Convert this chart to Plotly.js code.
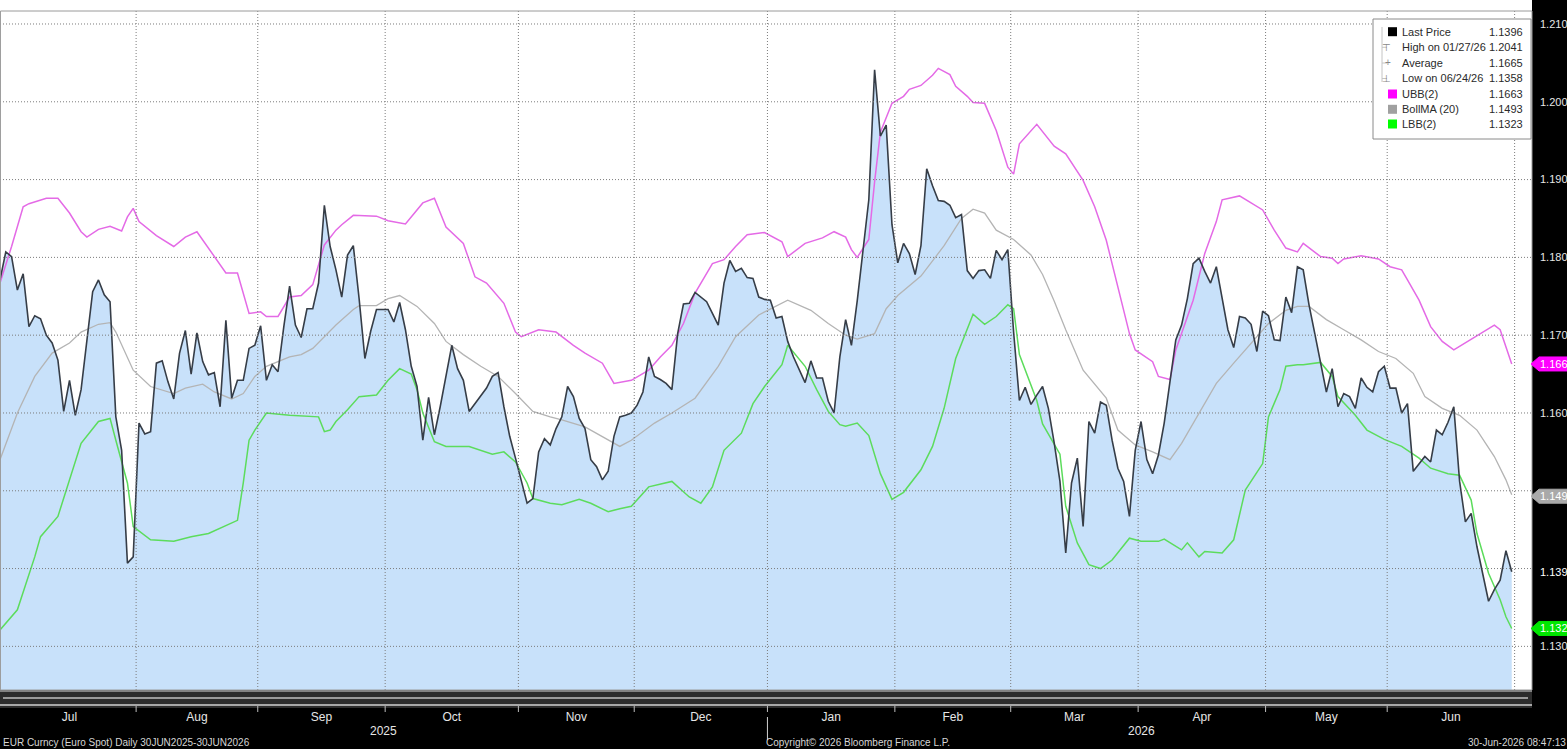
<!DOCTYPE html>
<html>
<head>
<meta charset="utf-8">
<script src="https://cdn.plot.ly/plotly-3.0.1.min.js"></script>
<style>
  html, body { margin: 0; padding: 0; background: #000; }
  #chart { width: 1567px; height: 749px; }
</style>
</head>
<body>
<div id="chart"></div>
<script>
// ---------------- DATA ----------------
// EUR spot, daily (trading-day index 0 = 30 Jun 2025 ... 261 = 30 Jun 2026)
const priceValues = [
  1.1771,1.1807,1.1801,1.1758,1.1779,1.1711,1.1725,1.1721,1.1700,1.1690,
  1.1668,1.1602,1.1642,1.1597,1.1630,1.1690,1.1756,1.1771,1.1752,1.1743,
  1.1595,1.1552,1.1407,1.1415,1.1587,1.1573,1.1576,1.1664,1.1667,1.1640,
  1.1618,1.1677,1.1706,1.1650,1.1703,1.1666,1.1649,1.1652,1.1608,1.1719,
  1.1619,1.1642,1.1642,1.1683,1.1687,1.1712,1.1642,1.1662,1.1653,1.1711,
  1.1763,1.1713,1.1697,1.1734,1.1734,1.1767,1.1867,1.1814,1.1784,1.1749,
  1.1803,1.1815,1.1747,1.1670,1.1705,1.1733,1.1733,1.1733,1.1717,1.1742,
  1.1707,1.1660,1.1634,1.1565,1.1620,1.1572,1.1608,1.1647,1.1687,1.1657,
  1.1642,1.1602,1.1612,1.1621,1.1632,1.1647,1.1652,1.1608,1.1570,1.1542,
  1.1514,1.1484,1.1490,1.1550,1.1567,1.1559,1.1580,1.1595,1.1634,1.1621,
  1.1593,1.1580,1.1540,1.1531,1.1514,1.1525,1.1570,1.1595,1.1597,1.1600,
  1.1610,1.1627,1.1672,1.1647,1.1643,1.1638,1.1630,1.1702,1.1740,1.1741,
  1.1755,1.1749,1.1743,1.1728,1.1713,1.1767,1.1796,1.1782,1.1786,1.1774,
  1.1773,1.1749,1.1746,1.1745,1.1722,1.1724,1.1692,1.1672,1.1655,1.1639,
  1.1667,1.1645,1.1645,1.1615,1.1600,1.1672,1.1720,1.1687,1.1744,1.1813,
  1.1874,1.2041,1.1956,1.1970,1.1842,1.1793,1.1818,1.1805,1.1778,1.1815,
  1.1914,1.1892,1.1873,1.1872,1.1867,1.1851,1.1855,1.1783,1.1773,1.1783,
  1.1784,1.1773,1.1809,1.1797,1.1810,1.1704,1.1616,1.1633,1.1611,1.1623,
  1.1634,1.1606,1.1562,1.1512,1.1420,1.1510,1.1542,1.1454,1.1589,1.1574,
  1.1614,1.1610,1.1565,1.1529,1.1512,1.1467,1.1552,1.1589,1.1540,1.1522,
  1.1546,1.1587,1.1642,1.1694,1.1713,1.1747,1.1792,1.1799,1.1782,1.1767,
  1.1788,1.1745,1.1707,1.1684,1.1724,1.1722,1.1714,1.1679,1.1731,1.1725,
  1.1694,1.1693,1.1749,1.1729,1.1788,1.1784,1.1739,1.1702,1.1664,1.1627,
  1.1657,1.1608,1.1625,1.1621,1.1606,1.1645,1.1633,1.1627,1.1653,1.1660,
  1.1632,1.1632,1.1600,1.1612,1.1525,1.1535,1.1544,1.1537,1.1578,1.1572,
  1.1588,1.1608,1.1512,1.1460,1.1471,1.1428,1.1394,1.1358,1.1373,1.1385,
  1.1423,1.1396
];
const priceIdx = priceValues.map((_, i) => i);

// Upper Bollinger band (2)
const ubbIdx = [0,2,4,5,8,10,12,14,15,17,19,21,22,23,24,27,30,32,34,37,39,41,43,45,46,48,50,52,54,56,58,59,61,65,67,70,73,75,77,80,82,84,87,89,90,93,96,99,101,104,106,109,112,114,116,118,120,123,125,127,129,132,135,136,139,142,144,146,147,148,150,151,152,154,156,157,159,161,162,164,165,167,168,170,172,174,175,176,179,182,184,187,189,191,193,195,196,199,200,202,203,206,208,210,211,214,216,218,220,222,224,225,228,230,231,232,235,238,240,242,243,245,247,249,251,253,255,258,259,261];
const ubbValues = [1.1767,1.1814,1.1865,1.1869,1.1876,1.1876,1.1857,1.1833,1.1826,1.1836,1.1840,1.1834,1.1852,1.1863,1.1846,1.1828,1.1814,1.1826,1.1833,1.1801,1.1780,1.1780,1.1728,1.1730,1.1724,1.1724,1.1749,1.1751,1.1765,1.1816,1.1835,1.1842,1.1854,1.1853,1.1847,1.1843,1.1870,1.1876,1.1839,1.1818,1.1775,1.1767,1.1741,1.1704,1.1698,1.1707,1.1704,1.1687,1.1677,1.1664,1.1638,1.1642,1.1655,1.1672,1.1687,1.1715,1.1754,1.1792,1.1797,1.1814,1.1829,1.1832,1.1820,1.1801,1.1818,1.1825,1.1833,1.1826,1.1810,1.1800,1.1823,1.1897,1.1961,1.1998,1.2007,1.2016,1.2021,1.2034,1.2043,1.2035,1.2020,1.2007,1.1999,1.1998,1.1963,1.1916,1.1907,1.1946,1.1971,1.1943,1.1933,1.1899,1.1865,1.1822,1.1762,1.1702,1.1681,1.1666,1.1647,1.1643,1.1681,1.1745,1.1805,1.1846,1.1874,1.1879,1.1870,1.1861,1.1835,1.1812,1.1807,1.1818,1.1801,1.1799,1.1792,1.1798,1.1802,1.1798,1.1788,1.1784,1.1771,1.1745,1.1711,1.1692,1.1681,1.1690,1.1700,1.1713,1.1707,1.1663];

// Bollinger moving average (20)
const maIdx = [0,3,6,9,12,14,17,19,20,23,26,30,32,35,37,40,42,44,46,50,52,54,58,61,62,65,67,69,72,75,77,80,83,86,89,92,95,97,101,104,106,107,109,113,116,120,124,127,131,134,136,140,143,146,148,151,153,155,159,163,166,168,170,172,175,178,180,182,184,187,191,193,196,199,202,204,207,210,213,216,219,222,224,226,229,232,235,238,241,244,246,249,252,255,258,260,261];
const maValues = [1.1540,1.1600,1.1647,1.1677,1.1690,1.1704,1.1714,1.1716,1.1704,1.1655,1.1634,1.1625,1.1632,1.1637,1.1627,1.1618,1.1625,1.1647,1.1660,1.1672,1.1675,1.1683,1.1713,1.1733,1.1738,1.1738,1.1747,1.1751,1.1737,1.1715,1.1692,1.1675,1.1660,1.1647,1.1625,1.1602,1.1595,1.1591,1.1582,1.1570,1.1561,1.1557,1.1565,1.1587,1.1600,1.1619,1.1660,1.1698,1.1726,1.1738,1.1745,1.1732,1.1715,1.1700,1.1695,1.1702,1.1734,1.1751,1.1776,1.1815,1.1850,1.1862,1.1857,1.1835,1.1823,1.1803,1.1778,1.1744,1.1707,1.1655,1.1619,1.1578,1.1559,1.1550,1.1540,1.1561,1.1600,1.1638,1.1664,1.1690,1.1715,1.1732,1.1737,1.1737,1.1720,1.1707,1.1694,1.1679,1.1670,1.1651,1.1621,1.1606,1.1597,1.1578,1.1544,1.1514,1.1495];

// Lower Bollinger band (2)
const lbbIdx = [0,3,6,7,10,12,14,17,19,20,22,23,26,30,33,36,38,41,42,43,44,46,50,55,56,57,58,60,62,65,67,69,71,72,73,75,77,81,85,87,89,91,92,95,97,100,102,105,107,109,112,116,119,121,123,125,128,130,132,135,136,139,141,143,145,146,148,150,152,154,156,159,161,163,165,167,168,170,172,174,175,176,179,180,183,184,186,188,190,192,195,197,200,201,204,205,207,208,211,213,215,218,219,221,222,224,225,228,230,231,234,236,239,242,245,247,250,252,254,255,257,259,260,261];
const lbbValues = [1.1321,1.1347,1.1415,1.1441,1.1467,1.1514,1.1561,1.1589,1.1593,1.1565,1.1510,1.1454,1.1437,1.1435,1.1441,1.1445,1.1452,1.1462,1.1510,1.1565,1.1578,1.1600,1.1597,1.1595,1.1576,1.1578,1.1589,1.1604,1.1621,1.1623,1.1642,1.1657,1.1650,1.1630,1.1600,1.1563,1.1557,1.1557,1.1547,1.1550,1.1537,1.1510,1.1490,1.1484,1.1482,1.1489,1.1484,1.1473,1.1477,1.1480,1.1505,1.1512,1.1492,1.1484,1.1505,1.1552,1.1574,1.1612,1.1634,1.1662,1.1687,1.1660,1.1630,1.1602,1.1585,1.1583,1.1587,1.1571,1.1522,1.1489,1.1498,1.1527,1.1557,1.1606,1.1670,1.1709,1.1727,1.1714,1.1724,1.1739,1.1734,1.1675,1.1616,1.1586,1.1547,1.1480,1.1433,1.1405,1.1400,1.1411,1.1439,1.1435,1.1435,1.1438,1.1424,1.1433,1.1415,1.1422,1.1420,1.1437,1.1501,1.1535,1.1595,1.1630,1.1660,1.1662,1.1662,1.1665,1.1647,1.1621,1.1597,1.1578,1.1566,1.1557,1.1542,1.1529,1.1522,1.1520,1.1488,1.1445,1.1394,1.1360,1.1338,1.1323];

// Month axis (first trading-day index of each month)
const monthNames = ['Jul','Aug','Sep','Oct','Nov','Dec','Jan','Feb','Mar','Apr','May','Jun'];
const monthStart = [1,24,45,67,90,110,133,155,175,197,219,240,262];
const yearLabels = ['2025','2026'];

// Price axis
const yTickVals = [1.13,1.14,1.15,1.16,1.17,1.18,1.19,1.20,1.21];
const yTickText = ['1.130','','','1.160','1.170','1.180','1.190','1.200','1.210'];

// Last-value tags on the axis
const tagValues = [1.1663, 1.1493, 1.1396, 1.1323];
const tagText   = ['1.166','1.149','1.139','1.132'];
const tagColors = ['#ff00ff','#a9a9a9', null, '#00e600'];

// Legend
const legendLabels = ['Last Price','High on 01/27/26','Average','Low on 06/24/26','UBB(2)','BollMA (20)','LBB(2)'];
const legendValues = ['1.1396','1.2041','1.1665','1.1358','1.1663','1.1493','1.1323'];
const legendSwatch = ['#000000', '⊤', '+', '⊥', '#ff00ff', '#a0a0a0', '#00ff00'];

const footerLeft = 'EUR Curncy (Euro Spot) Daily 30JUN2025-30JUN2026';
const footerMid = 'Copyright© 2026 Bloomberg Finance L.P.';
const footerRight = '30-Jun-2026 08:47:13';

// ---------------- LAYOUT ----------------
const FONT = 'Liberation Sans Narrow, Liberation Sans, Arial, sans-serif';
const W = 1567, H = 749;
const M = {l: 0, r: 35, t: 11, b: 59};
const PW = W - M.l - M.r, PH = H - M.t - M.b;
const X_RANGE = [0, 264.5];
const Y_RANGE = [1.12439, 1.21167];
const px = x => (x - M.l) / PW;              // page px -> paper x
const py = y => (H - M.b - y) / PH;          // page px -> paper y
const yPerPx = (Y_RANGE[1] - Y_RANGE[0]) / PH;

const bounds = monthStart.map(s => s - 0.5);
const mids = monthNames.map((_, i) => (Math.max(bounds[i], 0) + bounds[i + 1]) / 2);

const traces = [
  {x: priceIdx, y: priceValues, type: 'scatter', mode: 'lines',
   line: {width: 0, color: 'rgba(0,0,0,0)'}, fill: 'tozeroy', fillcolor: '#c8e1fa', hoverinfo: 'skip'},
  {x: maIdx, y: maValues, type: 'scatter', mode: 'lines', name: 'BollMA (20)',
   line: {color: '#b4b4b4', width: 1.3}},
  {x: ubbIdx, y: ubbValues, type: 'scatter', mode: 'lines', name: 'UBB(2)',
   line: {color: '#e46ae6', width: 1.5}},
  {x: lbbIdx, y: lbbValues, type: 'scatter', mode: 'lines', name: 'LBB(2)',
   line: {color: '#5cdc5c', width: 1.5}},
  {x: priceIdx, y: priceValues, type: 'scatter', mode: 'lines', name: 'Last Price',
   line: {color: '#363d47', width: 1.6}}
];

const shapes = [];
const annotations = [];
const grid = {color: '#7c7c7c', width: 1, dash: '1px,2px'};

// horizontal grid
yTickVals.forEach(v => shapes.push({type: 'line', xref: 'paper', yref: 'y', x0: 0, x1: 1, y0: v, y1: v, line: grid, layer: 'above'}));
// vertical grid at month boundaries
bounds.slice(1).forEach(b => shapes.push({type: 'line', xref: 'x', yref: 'paper', x0: b, x1: b, y0: 0, y1: 1, line: grid, layer: 'above'}));

// top white strip and plot frame
shapes.push({type: 'rect', xref: 'paper', yref: 'paper', x0: 0, x1: px(1532), y0: 1, y1: py(0), fillcolor: '#ffffff', line: {width: 0}, layer: 'below'});
shapes.push({type: 'rect', xref: 'paper', yref: 'paper', x0: 0.0003, x1: 1, y0: 0, y1: 1, line: {color: '#9a9a9a', width: 1}, layer: 'above'});

// scroll-bar band under the plot
shapes.push({type: 'rect', xref: 'paper', yref: 'paper', x0: 0, x1: px(1532), y0: py(708), y1: py(690), fillcolor: '#2c2c2c', line: {width: 0}});
shapes.push({type: 'line', xref: 'paper', yref: 'paper', x0: 0, x1: px(1532), y0: py(691), y1: py(691), line: {color: '#d8d8d8', width: 1}});
shapes.push({type: 'line', xref: 'paper', yref: 'paper', x0: px(3), x1: px(1528), y0: py(698), y1: py(698), line: {color: '#9a9a9a', width: 2}});
shapes.push({type: 'line', xref: 'paper', yref: 'paper', x0: 0, x1: px(1532), y0: py(705), y1: py(705), line: {color: '#d0d0d0', width: 1.5}});
// month tick marks
bounds.slice(1, -1).forEach(b => shapes.push({type: 'line', xref: 'x', yref: 'paper', x0: b, x1: b, y0: py(712), y1: py(706), line: {color: '#bdbdbd', width: 1}}));
// year separator
shapes.push({type: 'line', xref: 'x', yref: 'paper', x0: bounds[6], x1: bounds[6], y0: py(740), y1: py(717), line: {color: '#d0d0d0', width: 1}});

const mid = {showarrow: false, yanchor: 'middle'};
// year labels
annotations.push({...mid, xref: 'x', yref: 'paper', x: (0 + bounds[6]) / 2, y: py(731), text: yearLabels[0], font: {family: FONT, size: 12, color: '#e6e6e6'}});
annotations.push({...mid, xref: 'x', yref: 'paper', x: (bounds[6] + bounds[12]) / 2, y: py(731), text: yearLabels[1], font: {family: FONT, size: 12, color: '#e6e6e6'}});

// footer
const ff = {family: FONT, size: 10, color: '#d6d6d6'};
annotations.push({...mid, xref: 'paper', yref: 'paper', x: px(1), y: py(742), xanchor: 'left', text: footerLeft, font: ff});
annotations.push({...mid, xref: 'paper', yref: 'paper', x: px(764), y: py(742), xanchor: 'left', text: footerMid, font: ff});
annotations.push({...mid, xref: 'paper', yref: 'paper', x: px(1466), y: py(742), xanchor: 'left', text: footerRight, font: ff});

// last-value tags on the right axis
const hh = 7 * yPerPx;
tagValues.forEach((v, i) => {
  if (tagColors[i]) {
    const xa = px(1531), xb = px(1539), xc = px(1570);
    shapes.push({type: 'path', xref: 'paper', yref: 'y',
      path: `M ${xa} ${v} L ${xb} ${v + hh} L ${xc} ${v + hh} L ${xc} ${v - hh} L ${xb} ${v - hh} Z`,
      fillcolor: tagColors[i], line: {color: tagColors[i], width: 1}});
  }
  annotations.push({...mid, xref: 'paper', yref: 'y', x: px(1538), y: v, xanchor: 'left', text: tagText[i],
    font: {family: FONT, size: 11, color: '#ffffff'}});
});

// legend box
shapes.push({type: 'rect', xref: 'paper', yref: 'paper', x0: px(1373), x1: px(1531), y0: py(139), y1: py(19), fillcolor: '#ffffff', line: {color: '#8a8a8a', width: 1}, layer: 'above'});
shapes.push({type: 'line', xref: 'paper', yref: 'paper', x0: px(1382), x1: px(1382), y0: py(82), y1: py(27), line: {color: '#c4c4c4', width: 1}, layer: 'above'});
const rowY = [31.7, 47.3, 63, 78.5, 94, 109.3, 124];
rowY.forEach((ry, i) => {
  const sw = legendSwatch[i];
  if (sw.startsWith('#')) {
    shapes.push({type: 'rect', xref: 'paper', yref: 'paper', x0: px(1388), x1: px(1397), y0: py(ry + 4.5), y1: py(ry - 4.5), fillcolor: sw, line: {width: 0}, layer: 'above'});
  } else {
    shapes.push({type: 'line', xref: 'paper', yref: 'paper', x0: px(1382), x1: px(1387), y0: py(ry), y1: py(ry), line: {color: '#c4c4c4', width: 1}, layer: 'above'});
    annotations.push({...mid, xref: 'paper', yref: 'paper', x: px(1392.5), y: py(ry), text: sw, font: {family: FONT, size: 10, color: '#888888'}});
  }
  annotations.push({...mid, xref: 'paper', yref: 'paper', x: px(1400), y: py(ry), xanchor: 'left', text: legendLabels[i], font: {family: FONT, size: 11, color: '#2a2a2a'}});
  annotations.push({...mid, xref: 'paper', yref: 'paper', x: px(1525), y: py(ry), xanchor: 'right', text: legendValues[i], font: {family: FONT, size: 11, color: '#2a2a2a'}});
});

const layout = {
  width: W, height: H,
  margin: M,
  paper_bgcolor: '#000000', plot_bgcolor: '#ffffff',
  showlegend: false,
  xaxis: {range: X_RANGE, tickvals: mids, ticktext: monthNames, showgrid: false, zeroline: false, showline: false,
    ticks: '', ticklabelstandoff: 18, tickfont: {family: FONT, size: 12, color: '#e6e6e6'}, fixedrange: true},
  yaxis: {range: Y_RANGE, side: 'right', tickvals: yTickVals, ticktext: yTickText, showgrid: false, zeroline: false, showline: false,
    ticks: '', ticklabelstandoff: 7, tickfont: {family: FONT, size: 11, color: '#e6e6e6'}, fixedrange: true},
  shapes: shapes,
  annotations: annotations
};

Plotly.newPlot('chart', traces, layout, {staticPlot: true, displayModeBar: false});
</script>
</body>
</html>
